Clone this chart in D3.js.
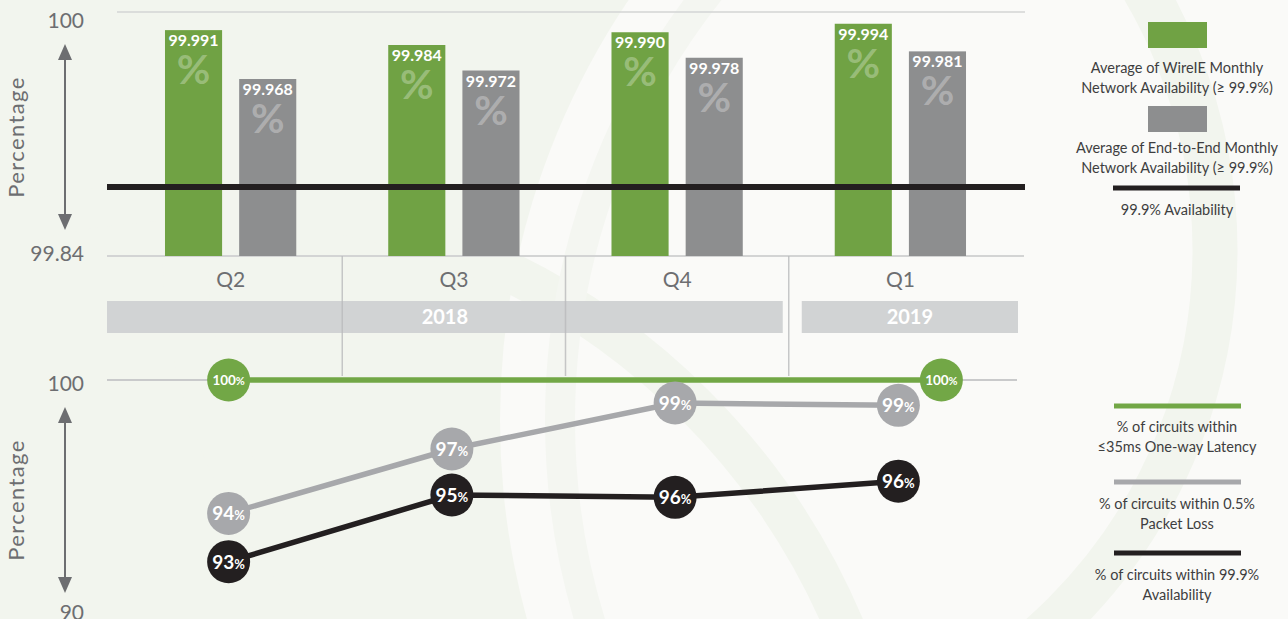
<!DOCTYPE html>
<html lang="en">
<head>
  <meta charset="UTF-8">
  <title>Network Availability and Circuit Performance</title>
  <style>
    * { margin: 0; padding: 0; box-sizing: border-box; }
    body, html { width: 1288px; height: 619px; overflow: hidden; background: #f2f5ee; font-family: Lato, "Open Sans", sans-serif; }
    svg text { font-family: Lato, "Open Sans", sans-serif; }
  </style>
</head>
<body>
  <div id="chart"></div>

  <script src="https://d3js.org/d3.v7.min.js"></script>
  <script>
    // data
    const quarters = ["Q2", "Q3", "Q4", "Q1"];
    const yearGroups = [
      { year: "2018", from: "Q2", to: "Q4" },
      { year: "2019", from: "Q1", to: "Q1" }
    ];
    const barSeries = ["wireie", "endToEnd"];
    const wireieAvail = [99.991, 99.984, 99.990, 99.994];
    const endToEndAvail = [99.968, 99.972, 99.978, 99.981];
    const availTarget = 99.9;
    const barAxisTicks = ["100", "99.84"];

    const latencyPct = [100, 100, 100, 100];
    const packetLossPct = [94.2, 97.0, 99.0, 98.9];
    const availabilityPct = [92.1, 95.0, 94.9, 95.6];
    // only the labelled points get a marker
    const latencyLabels = ["100", "", "", "100"];
    const packetLossLabels = ["94", "97", "99", "99"];
    const availabilityLabels = ["93", "95", "96", "96"];
    const lineAxisTicks = ["100", "90"];

    const topLegend = [
      { kind: "rect", color: "#70a244", lines: ["Average of WireIE Monthly", "Network Availability (\u2265 99.9%)"] },
      { kind: "rect", color: "#8d8e8f", lines: ["Average of End-to-End Monthly", "Network Availability (\u2265 99.9%)"] },
      { kind: "line", color: "#231f20", lines: ["99.9% Availability"] }
    ];
    const bottomLegend = [
      { color: "#72a746", lines: ["% of circuits within", "\u226435ms One-way Latency"] },
      { color: "#a7a8ab", lines: ["% of circuits within 0.5%", "Packet Loss"] },
      { color: "#231f20", lines: ["% of circuits within 99.9%", "Availability"] }
    ];

    const width = 1288, height = 619;
    const green = "#70a244", gray = "#8d8e8f", black = "#231f20";
    const axisGray = "#6d6e71", gridGray = "#d3d4d4";
    const axisLeft = 107, axisRight = 1024;

    const svg = d3.select("#chart").append("svg")
      .attr("width", width).attr("height", height);

    // background swoosh
    const bg = svg.append("g");
    bg.append("rect").attr("width", width).attr("height", height).attr("fill", "#f2f5ee");
    bg.append("circle").attr("cx", 1250).attr("cy", 420).attr("r", 750).attr("fill", "#fafaf8");
    bg.append("circle").attr("cx", 200).attr("cy", 900).attr("r", 700)
      .attr("fill", "none").attr("stroke", "#f2f5ee").attr("stroke-width", 40);
    bg.append("circle").attr("cx", 700).attr("cy", 250).attr("r", 515)
      .attr("fill", "none").attr("stroke", "#f2f5ee").attr("stroke-width", 45);
    bg.append("circle").attr("cx", 1250).attr("cy", 420).attr("r", 690)
      .attr("fill", "none").attr("stroke", "#f4f6f1").attr("stroke-width", 30);

    // scales
    const x = d3.scaleBand().domain(quarters).range([119, 1012]);
    const xInner = d3.scaleBand().domain(barSeries).range([0, x.bandwidth()])
      .paddingInner(0.23).paddingOuter(0.62);
    const xMid = q => x(q) + x.bandwidth() / 2;

    // bar axis only labels its ends, the data sit in the upper part
    const yBar = d3.scaleLinear().domain([99.84, 99.9, 99.96, 100]).range([256, 187, 96, 11]);
    const yLine = d3.scaleLinear().domain([90, 100]).range([610, 380]);

    // ----- top: bars -----
    const topG = svg.append("g");
    topG.append("line").attr("x1", 117).attr("x2", axisRight + 1)
      .attr("y1", yBar(100) + 1).attr("y2", yBar(100) + 1)
      .attr("stroke", gridGray).attr("stroke-width", 1.5);
    topG.append("line").attr("x1", axisLeft).attr("x2", axisRight)
      .attr("y1", yBar(99.84)).attr("y2", yBar(99.84))
      .attr("stroke", gridGray).attr("stroke-width", 2);

    const barRows = quarters.map((q, i) => [
      { q, key: "wireie", value: wireieAvail[i], color: green },
      { q, key: "endToEnd", value: endToEndAvail[i], color: gray }
    ]).flat();

    const bars = topG.append("g").selectAll("g").data(barRows).join("g")
      .attr("transform", d => `translate(${x(d.q) + xInner(d.key)},0)`);
    bars.append("rect")
      .attr("y", d => yBar(d.value))
      .attr("width", xInner.bandwidth())
      .attr("height", d => yBar(99.84) - yBar(d.value))
      .attr("fill", d => d.color);
    bars.append("text")
      .attr("x", xInner.bandwidth() / 2).attr("y", d => yBar(d.value) + 16)
      .attr("text-anchor", "middle").attr("fill", "#fff")
      .attr("font-size", 16).attr("font-weight", 700)
      .text(d => d3.format(".3f")(d.value));
    bars.append("text")
      .attr("x", xInner.bandwidth() / 2).attr("y", d => yBar(d.value) + 54)
      .attr("text-anchor", "middle").attr("fill", "#fff").attr("fill-opacity", 0.3)
      .attr("font-size", 41).attr("font-weight", 700)
      .text("%");

    // 99.9% line
    topG.append("line").attr("x1", axisLeft).attr("x2", axisRight + 1)
      .attr("y1", yBar(availTarget)).attr("y2", yBar(availTarget))
      .attr("stroke", black).attr("stroke-width", 6);

    // axis labels + arrows
    function sideAxis(g, topBase, bottomBase, labels, arrowTop, arrowBottom) {
      g.append("text").attr("x", 84).attr("y", topBase).attr("text-anchor", "end")
        .attr("font-size", 21).attr("fill", axisGray).text(labels[0]);
      g.append("text").attr("x", 84).attr("y", bottomBase).attr("text-anchor", "end")
        .attr("font-size", 21).attr("fill", axisGray).text(labels[1]);
      g.append("line").attr("x1", 65).attr("x2", 65).attr("y1", arrowTop + 12).attr("y2", arrowBottom - 12)
        .attr("stroke", axisGray).attr("stroke-width", 2);
      g.append("path").attr("fill", axisGray)
        .attr("d", `M65,${arrowTop}l-7,16h14z M65,${arrowBottom}l-7,-16h14z`);
      g.append("text")
        .attr("transform", `translate(24,${(arrowTop + arrowBottom) / 2}) rotate(-90)`)
        .attr("text-anchor", "middle").attr("font-size", 22).attr("letter-spacing", 1.4)
        .attr("fill", axisGray)
        .text("Percentage");
    }
    sideAxis(svg.append("g"), yBar(100) + 17, yBar(99.84) + 5, barAxisTicks, 44, 230);
    sideAxis(svg.append("g"), yLine(100) + 11, yLine(90) + 10, lineAxisTicks, 407, 593);

    // ----- quarter / year labels -----
    const midG = svg.append("g");
    midG.selectAll("text.q").data(quarters).join("text").attr("class", "q")
      .attr("x", xMid).attr("y", 287).attr("text-anchor", "middle")
      .attr("font-size", 21).attr("fill", axisGray).text(d => d);

    const yearStart = (d, i) => i === 0 ? axisLeft : x(d.from) + 13;
    const yearEnd = (d, i) => i === yearGroups.length - 1 ? axisRight - 6 : x(d.to) + x.bandwidth() - 6;
    midG.selectAll("rect.yr").data(yearGroups).join("rect").attr("class", "yr")
      .attr("x", yearStart)
      .attr("y", 301)
      .attr("width", (d, i) => yearEnd(d, i) - yearStart(d, i))
      .attr("height", 32)
      .attr("fill", "#d1d3d4");
    midG.selectAll("text.yr").data(yearGroups).join("text").attr("class", "yr")
      .attr("x", (d, i) => (yearStart(d, i) + yearEnd(d, i)) / 2)
      .attr("y", 324).attr("text-anchor", "middle")
      .attr("font-size", 20).attr("font-weight", 700).attr("fill", "#fff")
      .text(d => d.year);

    // separators between quarters
    midG.selectAll("line.sep").data(quarters.slice(1)).join("line").attr("class", "sep")
      .attr("x1", d => x(d)).attr("x2", d => x(d))
      .attr("y1", yBar(99.84)).attr("y2", 376)
      .attr("stroke", "#b9babb").attr("stroke-opacity", 0.8).attr("stroke-width", 1.5);

    // ----- bottom: lines -----
    const botG = svg.append("g");
    botG.append("line").attr("x1", axisLeft).attr("x2", 1017)
      .attr("y1", yLine(100)).attr("y2", yLine(100))
      .attr("stroke", "#c9cacb").attr("stroke-width", 2);

    const lineSeries = [
      { key: "latency", values: latencyPct, labels: latencyLabels, color: "#72a746", big: false },
      { key: "loss", values: packetLossPct, labels: packetLossLabels, color: "#a7a8ab", big: true },
      { key: "avail", values: availabilityPct, labels: availabilityLabels, color: black, big: true }
    ];
    // the last latency marker is pushed right so it clears the packet-loss marker
    const px = (s, i) => xMid(quarters[i]) - 2 + (s.key === "latency" && i === quarters.length - 1 ? 43 : 0);

    const lineGen = d3.line();
    lineSeries.forEach(s => {
      const pts = s.values.map((v, i) => ({ x: px(s, i), y: yLine(v), label: s.labels[i] }));
      botG.append("path").attr("d", lineGen(pts.map(p => [p.x, p.y]))).attr("fill", "none")
        .attr("stroke", s.color).attr("stroke-width", 5.5);
      const m = botG.append("g").selectAll("g").data(pts.filter(p => p.label)).join("g")
        .attr("transform", d => `translate(${d.x},${d.y})`);
      m.append("circle").attr("r", 21.5).attr("fill", s.color);
      const t = m.append("text").attr("text-anchor", "middle").attr("fill", "#fff")
        .attr("y", s.big ? 7 : 5).attr("font-weight", 700);
      t.append("tspan").attr("font-size", s.big ? 19 : 13.5).text(d => d.label);
      t.append("tspan").attr("font-size", s.big ? 13 : 11).text("%");
    });

    // ----- legends -----
    const legX = 1177;
    const legTop = svg.append("g");
    const topYs = [[22, 73], [106, 153], [188, 215]];
    topLegend.forEach((d, i) => {
      const [sy, ty] = topYs[i];
      if (d.kind === "rect") {
        legTop.append("rect").attr("x", legX - 29).attr("y", sy).attr("width", 59).attr("height", 26).attr("fill", d.color);
      } else {
        legTop.append("line").attr("x1", legX - 64).attr("x2", legX + 63).attr("y1", sy).attr("y2", sy)
          .attr("stroke", d.color).attr("stroke-width", 5);
      }
      d.lines.forEach((ln, j) => {
        legTop.append("text").attr("x", legX).attr("y", ty + j * 20).attr("text-anchor", "middle")
          .attr("font-size", 14.5).attr("fill", "#3e3e40").text(ln);
      });
    });

    const legBot = svg.append("g");
    const botYs = [[406, 432], [482, 509], [553, 580]];
    bottomLegend.forEach((d, i) => {
      const [sy, ty] = botYs[i];
      legBot.append("line").attr("x1", legX - 63).attr("x2", legX + 64).attr("y1", sy).attr("y2", sy)
        .attr("stroke", d.color).attr("stroke-width", 5);
      d.lines.forEach((ln, j) => {
        legBot.append("text").attr("x", legX).attr("y", ty + j * 20).attr("text-anchor", "middle")
          .attr("font-size", 14.5).attr("fill", "#3e3e40").text(ln);
      });
    });
  </script>
</body>
</html>
